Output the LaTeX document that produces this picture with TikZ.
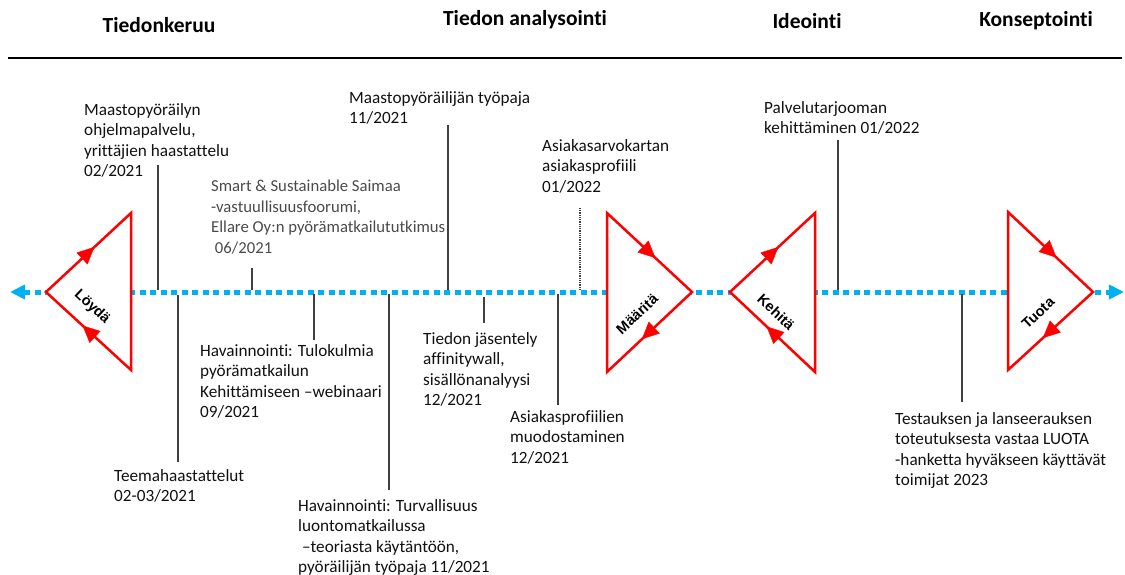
\documentclass[tikz,border=0pt]{standalone}
\usepackage{fontspec}
\setmainfont{Carlito}[Ligatures=NoCommon]
\newfontfamily\labfont{Liberation Sans}
\usetikzlibrary{arrows.meta,decorations.markings}
\definecolor{timeblue}{HTML}{00B0F0}
\definecolor{stemgray}{HTML}{404040}
\definecolor{softtext}{HTML}{4A4A4A}
\definecolor{bodytext}{HTML}{111111}
\tikzset{
  phase/.style={font=\bfseries\fontsize{21.5}{25}\selectfont, inner sep=0pt},
  note/.style={anchor=north west, inner sep=0pt, align=left, text=bodytext,
               font=\fontsize{17.2}{20.5}\selectfont},
  stem/.style={draw=stemgray, line width=1.3pt},
  dotstem/.style={draw=stemgray, line width=1.1pt, dash pattern=on 1pt off 0.8pt},
  timeline/.style={draw=timeblue, line width=5pt, dash pattern=on 6pt off 4.5pt,
                   {Triangle[length=15pt,width=14pt]}-{Triangle[length=15pt,width=14pt]}},
  tri/.style={draw=red, line width=2.5pt, fill=white, line join=miter},
  flow/.style={postaction={decorate}, decoration={markings,
      mark=at position #1 with {\arrow{Triangle[length=17pt,width=16pt,color=red]}}}},
  triname/.style={font=\labfont\bfseries\fontsize{14.5}{16}\selectfont, inner sep=0pt}
}
\begin{document}
\begin{tikzpicture}[x=1pt,y=-1pt]
\useasboundingbox (0,0) rectangle (1125,575);

% phase headings and rule
\node[phase] (h1) at (159,25) {Tiedonkeruu};
\node[phase] (h2) at (525,20) {Tiedon analysointi};
\node[phase] (h3) at (807,21) {Ideointi};
\node[phase] (h4) at (1036,21) {Konseptointi};
\coordinate (ruleL) at (8,58);
\coordinate (ruleR) at (1122,58);
\draw[line width=2pt] (ruleL) -- (ruleR);

% time axis
\coordinate (axisL) at (10,292);
\coordinate (axisR) at (1124,292);
\draw[timeline] (axisL) -- (axisR);

% Löydä
\coordinate (l1) at (46,292);
\coordinate (l2) at (131,213);
\coordinate (l3) at (131,370);
\draw[tri] (l1) -- (l2) -- (l3) -- cycle;
\path[flow=0.57] (l1) -- (l2);
\path[flow=0.57] (l3) -- (l1);
\node[triname, rotate=-43] (tLoyda) at (92,307) {Löydä};

% Määritä
\coordinate (m1) at (607,213);
\coordinate (m2) at (692,292);
\coordinate (m3) at (607,372);
\draw[tri] (m1) -- (m2) -- (m3) -- cycle;
\path[flow=0.57] (m1) -- (m2);
\path[flow=0.59] (m2) -- (m3);
\node[triname, rotate=43] (tMaarita) at (637,314) {Määritä};

% Kehitä
\coordinate (k1) at (730,292);
\coordinate (k2) at (815,213);
\coordinate (k3) at (815,372);
\draw[tri] (k1) -- (k2) -- (k3) -- cycle;
\path[flow=0.57] (k1) -- (k2);
\path[flow=0.57] (k3) -- (k1);
\node[triname, rotate=-43] (tKehita) at (776,312) {Kehitä};

% Tuota
\coordinate (u1) at (1008,212);
\coordinate (u2) at (1093,292);
\coordinate (u3) at (1008,370);
\draw[tri] (u1) -- (u2) -- (u3) -- cycle;
\path[flow=0.57] (u1) -- (u2);
\path[flow=0.59] (u2) -- (u3);
\node[triname, rotate=43] (tTuota) at (1038,313) {Tuota};

% events above the axis
\node[note] (nA) at (84,103) {Maastopyöräilyn\\ohjelmapalvelu,\\yrittäjien haastattelu\\02/2021};
\coordinate (aTop) at (158,165); \coordinate (aBot) at (158,290);
\draw[stem] (aTop) -- (aBot);

\node[note, text=softtext, font=\fontsize{16.7}{20.5}\selectfont] (nC) at (211,180) {Smart \& Sustainable Saimaa\\-vastuullisuusfoorumi,\\Ellare Oy:n pyörämatkailututkimus\\\ 06/2021};
\coordinate (cTop) at (252,268); \coordinate (cBot) at (252,290);
\draw[stem] (cTop) -- (cBot);

\node[note] (nD) at (349,91) {Maastopyöräilijän työpaja\\11/2021};
\coordinate (dTop) at (448,125); \coordinate (dBot) at (448,290);
\draw[stem] (dTop) -- (dBot);

\node[note] (nI) at (542,139) {Asiakasarvokartan\\asiakasprofiili\\01/2022};
\coordinate (iTop) at (580,208); \coordinate (iBot) at (580,290);
\draw[dotstem] (iTop) -- (iBot);

\node[note] (nJ) at (764,101) {Palvelutarjooman\\kehittäminen 01/2022};
\coordinate (jTop) at (838,140); \coordinate (jBot) at (838,290);
\draw[stem] (jTop) -- (jBot);

% events below the axis
\coordinate (bTop) at (178,295); \coordinate (bBot) at (178,462);
\draw[stem] (bTop) -- (bBot);
\node[note] (nB) at (114,469) {Teemahaastattelut\\02-03/2021};

\coordinate (eTop) at (314,294); \coordinate (eBot) at (314,340);
\draw[stem] (eTop) -- (eBot);
\node[note] (nE) at (200,344) {Havainnointi: Tulokulmia\\pyörämatkailun\\Kehittämiseen –webinaari\\09/2021};

\coordinate (fTop) at (389,294); \coordinate (fBot) at (389,490);
\draw[stem] (fTop) -- (fBot);
\node[note] (nF) at (298,499) {Havainnointi: Turvallisuus\\luontomatkailussa\\\ –teoriasta käytäntöön,\\pyöräilijän työpaja 11/2021};

\coordinate (gTop) at (484,297); \coordinate (gBot) at (484,323);
\draw[stem] (gTop) -- (gBot);
\node[note] (nG) at (423,332) {Tiedon jäsentely\\affinitywall,\\sisällönanalyysi\\12/2021};

\coordinate (hTop) at (558,294); \coordinate (hBot) at (558,405);
\draw[stem] (hTop) -- (hBot);
\node[note] (nH) at (510,410) {Asiakasprofiilien\\muodostaminen\\12/2021};

\coordinate (kTop) at (962,294); \coordinate (kBot) at (962,402);
\draw[stem] (kTop) -- (kBot);
\node[note] (nK) at (895,412) {Testauksen ja lanseerauksen\\toteutuksesta vastaa LUOTA\\-hanketta hyväkseen käyttävät\\toimijat 2023};
\end{tikzpicture}
\end{document}
